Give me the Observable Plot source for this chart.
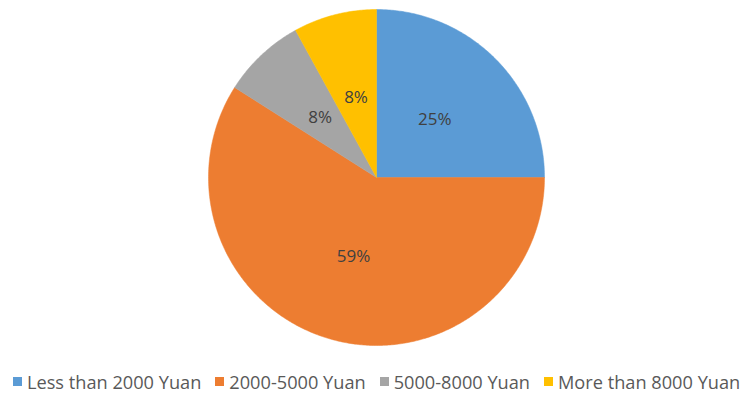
<!DOCTYPE html>
<html>
<head>
<meta charset="utf-8">
<script src="https://cdn.jsdelivr.net/npm/d3@7"></script>
<script src="https://cdn.jsdelivr.net/npm/@observablehq/plot@0.6"></script>
<style>
  html, body { margin: 0; padding: 0; background: #fff; }
  #chart { width: 748px; height: 401px; overflow: hidden; }
  .lg-swatches { display: flex !important; flex-wrap: nowrap !important; justify-content: flex-start; align-items: center;
    height: 39px; min-height: 0 !important; margin: 0 !important; padding-left: 13px; white-space: nowrap; }
  .lg-swatch { margin-right: 14px !important; }
  .lg-swatch svg { margin-right: 5px !important; }
</style>
</head>
<body>
<div id="chart"></div>
<script>
const categories = ["Less than 2000 Yuan", "2000-5000 Yuan", "5000-8000 Yuan", "More than 8000 Yuan"];
const shares = [25, 59, 8, 8];
const labels = ["25%", "59%", "8%", "8%"];
const colors = ["#5B9BD5", "#ED7D31", "#A5A5A5", "#FFC000"];

const W = 748, H = 362;
const R = 168, cx = 376, cy = 177;

const arcs = d3.pie().sort(null).value(d => d.v)(categories.map((c, i) => ({c, v: shares[i], l: labels[i]})));

// polygon vertices for each slice (unit radius)
const pts = [];
arcs.forEach(a => {
  pts.push({c: a.data.c, x: 0, y: 0});
  const n = Math.max(4, Math.ceil((a.endAngle - a.startAngle) / 0.01));
  for (let k = 0; k <= n; k++) {
    const t = a.startAngle + (a.endAngle - a.startAngle) * k / n;
    pts.push({c: a.data.c, x: Math.sin(t), y: Math.cos(t)});
  }
  pts.push({c: a.data.c, x: 0, y: 0});
});
const lab = arcs.map(a => {
  const m = (a.startAngle + a.endAngle) / 2, r = 0.49;
  return {l: a.data.l, x: r * Math.sin(m), y: r * Math.cos(m)};
});

const color = {domain: categories, range: colors};
const plot = Plot.plot({
  width: W, height: H,
  margin: 0,
  x: {domain: [-cx / R, (W - cx) / R], axis: null},
  y: {domain: [(cy - H) / R, cy / R], axis: null},
  color,
  marks: [
    Plot.line(pts, {x: "x", y: "y", z: "c", fill: "c", stroke: "c", strokeWidth: 0.5, curve: "linear"}),
    Plot.text(lab, {x: "x", y: "y", text: "l", fill: "#404040", fontSize: 17, fontFamily: "Open Sans"})
  ],
  style: {fontFamily: "Open Sans"}
});
const legend = Plot.legend({
  color: {...color, type: "ordinal"},
  swatchWidth: 9,
  swatchHeight: 9,
  className: "lg",
  style: {fontSize: "18.2px", fontFamily: "Open Sans", color: "#595959"}
});
const el = document.getElementById("chart");
el.appendChild(plot);
el.appendChild(legend);
</script>
</body>
</html>
